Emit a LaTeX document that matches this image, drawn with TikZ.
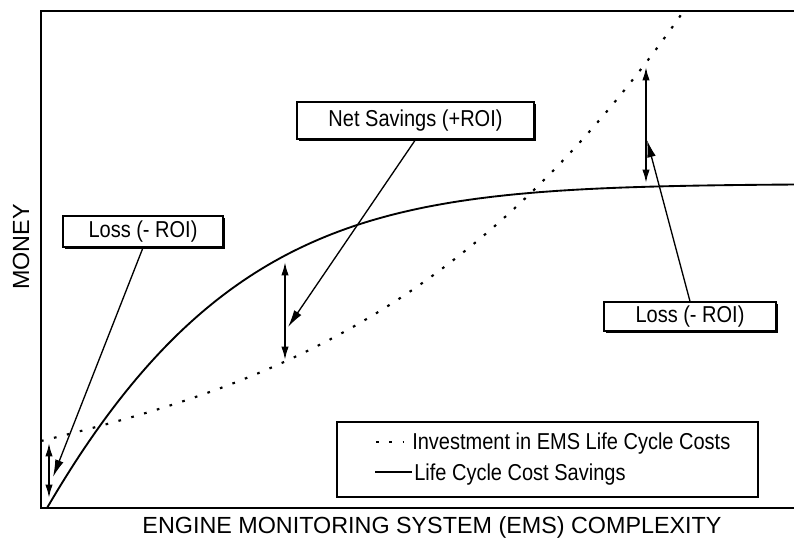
\documentclass[tikz,border=0pt]{standalone}
\usepackage{fontspec}
\setmainfont{Liberation Sans}
\newfontfamily\narrowsans[FakeStretch=0.87]{Liberation Sans}
\usetikzlibrary{arrows.meta,shadows}

\begin{document}
\begin{tikzpicture}[x=0.75pt,y=-0.75pt,
  axis/.style={line width=1.5pt},
  savings/.style={line width=1.4pt},
  invest/.style={line width=1.6pt, dash pattern=on 2pt off 8pt},
  leader/.style={line width=1pt, -{Latex[length=13pt,width=6.5pt]}},
  span/.style={line width=1.3pt, {Latex[length=10pt,width=5.5pt]}-{Latex[length=10pt,width=5.5pt]}},
  callout/.style={draw, line width=1pt, fill=white, inner sep=0pt,
    font=\narrowsans\fontsize{17.25}{20}\selectfont,
    drop shadow={shadow xshift=1.2pt, shadow yshift=-1.2pt, fill=black, opacity=1}},
  legtext/.style={inner sep=0pt, font=\narrowsans\fontsize{17.25}{20}\selectfont},
  axislabel/.style={inner sep=0pt, font=\fontsize{17.5}{20}\selectfont}]

\useasboundingbox (0,0) rectangle (794,549);

% axes frame
\draw[axis] (794,11) -- (41,11) -- (41,508) -- (794,508);

% axis titles
\node[axislabel, rotate=90] (ylab) at (21,247) {MONEY};
\node[axislabel] (xlab) at (432,527) {ENGINE MONITORING SYSTEM (EMS) COMPLEXITY};

% life cycle cost savings: rises steeply, then levels off
\draw[savings] plot[domain=47:794, samples=160]
  (\x, {508-324*(1-exp(-(0.53*((\x-47)/100)+0.044*((\x-47)/100)^2)))});

% investment in EMS life cycle costs: cubic growth
\draw[invest] plot[domain=41:683, samples=150]
  (\x, {441-(24.49*((\x-41)/100)+1.301*((\x-41)/100)^2+0.8244*((\x-41)/100)^3)});

% gaps between the two curves
\coordinate (lowTop) at (49,443);
\coordinate (lowBot) at (49,498);
\coordinate (midTop) at (285,262);
\coordinate (midBot) at (285,360);
\coordinate (highTop) at (646,67);
\coordinate (highBot) at (646,183);
\draw[span] (lowTop) -- (lowBot);
\draw[span] (midTop) -- (midBot);
\draw[span] (highTop) -- (highBot);

% callouts
\node[callout, minimum width=120pt, minimum height=23.25pt] (lossL) at (143,231.5) {Loss (- ROI)};
\node[callout, minimum width=177.75pt, minimum height=27.75pt] (net) at (415.5,120.5) {Net Savings (+ROI)};
\node[callout, minimum width=129pt, minimum height=21.75pt] (lossR) at (690,316.5) {Loss (- ROI)};

\coordinate (tipL) at (53,477);
\coordinate (tipN) at (288,327);
\coordinate (tipR) at (647,140);
\draw[leader] (lossL.south) -- (tipL);
\draw[leader] (net.south) -- (tipN);
\draw[leader] (lossR.north) -- (tipR);

% legend
\node[draw, line width=1pt, minimum width=315.75pt, minimum height=56.25pt,
  drop shadow={shadow xshift=1pt, shadow yshift=-1pt, fill=black, opacity=1}, fill=white]
  (legend) at (547.5,459.5) {};
\node[legtext, anchor=base west] (legI) at (412,450) {Investment in EMS Life Cycle Costs};
\node[legtext, anchor=base west] (legS) at (414,480) {Life Cycle Cost Savings};
\draw[invest] (376,442) -- (404,442);
\draw[savings] (375,472) -- (412,472);
\end{tikzpicture}
\end{document}
